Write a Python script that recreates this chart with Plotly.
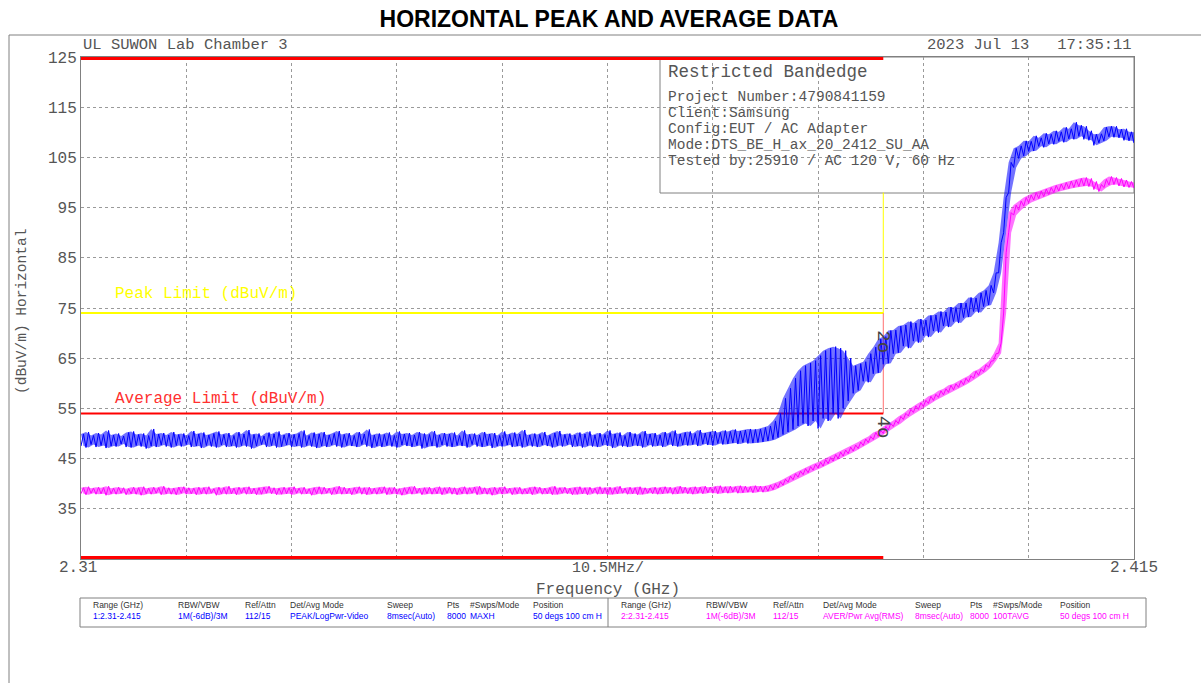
import plotly.graph_objects as go

# ---------------- data ----------------
f_start, f_stop, f_step = 2.31, 2.415, 0.0005   # sweep span (GHz), sample-bin width
n_bins = 211

peak_lo = [
    47.5, 47.2, 47.8, 47.3, 47.6, 47.1, 47.5, 47.4, 47.9, 47.3,
    47.2, 47.6, 47.4, 47.0, 47.5, 47.3, 47.7, 47.4, 47.2, 47.6,
    47.4, 47.8, 47.3, 47.5, 47.1, 47.6, 47.4, 47.2, 47.7, 47.3,
    47.5, 47.2, 47.6, 47.4, 47.0, 47.5, 47.8, 47.3, 47.6, 47.2,
    47.4, 47.7, 47.3, 47.5, 47.2, 47.6, 47.4, 47.1, 47.5, 47.3,
    47.7, 47.4, 47.2, 47.6, 47.5, 47.3, 47.8, 47.4, 47.1, 47.5,
    47.3, 47.6, 47.4, 47.2, 47.7, 47.5, 47.3, 47.6, 47.0, 47.4,
    47.5, 47.2, 47.7, 47.4, 47.3, 47.6, 47.5, 47.2, 47.8, 47.4,
    47.3, 47.6, 47.1, 47.5, 47.4, 47.7, 47.3, 47.5, 47.2, 47.6,
    47.4, 47.3, 47.7, 47.5, 47.2, 47.6, 47.4, 47.8, 47.3, 47.5,
    47.2, 47.6, 47.4, 47.3, 47.7, 47.5, 47.1, 47.6, 47.4, 47.3,
    47.6, 47.5, 47.2, 47.7, 47.4, 47.6, 47.3, 47.8, 47.5, 47.4,
    47.7, 47.6, 47.8, 47.5, 47.9, 47.7, 47.6, 48.0, 47.8, 47.9,
    48.1, 47.9, 48.2, 48.0,
    48.1, 48.2, 48.3, 48.5, 48.8, 49.2, 49.8, 50.3, 50.8, 51.5,
    52.0, 51.5, 52.5, 51.0, 53.0, 52.5, 54.0, 53.0, 55.0, 56.5,
    58.0, 58.6, 60.4, 60.2, 61.9, 62.1, 63.8, 64.0, 65.9, 66.1,
    67.4, 67.0, 68.4, 68.1, 69.5, 69.2, 70.4, 70.1, 71.4, 71.2,
    72.3, 72.0, 73.1, 73.2, 74.3, 74.1, 75.3, 75.6, 78.0, 82.0,
    90.0, 98.0, 103.0, 104.8, 105.3, 106.2, 106.3, 107.2, 107.0, 107.7,
    107.6, 108.2, 108.0, 108.7, 108.6, 109.2, 108.6, 108.4, 107.4, 107.9,
    108.3, 109.1, 109.0, 108.9, 108.4, 108.3, 107.9,
]

peak_hi = [
    49.9, 50.3, 49.6, 50.1, 49.8, 50.6, 49.7, 50.0, 49.5, 50.2,
    50.4, 49.8, 50.0, 49.6, 50.9, 49.9, 50.1, 49.7, 50.3, 49.8,
    50.0, 49.6, 50.5, 49.9, 50.2, 49.7, 50.0, 50.4, 49.8, 50.1,
    49.6, 50.3, 49.9, 50.7, 49.8, 50.0, 49.5, 50.2, 49.9, 50.4,
    49.7, 50.1, 49.8, 50.0, 50.6, 49.6, 50.2, 49.9, 50.3, 49.7,
    50.0, 50.5, 49.8, 50.1, 49.6, 50.3, 49.9, 50.8, 49.7, 50.0,
    49.8, 50.2, 49.6, 50.4, 49.9, 50.1, 49.7, 50.3, 50.0, 49.8,
    50.5, 49.7, 50.1, 49.9, 50.2, 49.6, 50.6, 49.8, 50.0, 49.7,
    50.3, 49.9, 50.1, 49.6, 50.4, 49.8, 50.2, 49.9, 50.7, 49.7,
    50.0, 49.8, 50.3, 49.6, 50.1, 50.5, 49.8, 50.0, 49.7, 50.2,
    49.9, 50.4, 49.7, 50.1, 49.8, 50.6, 49.9, 50.2, 49.6, 50.3,
    50.0, 49.8, 50.5, 49.9, 50.1, 49.7, 50.3, 50.0, 50.6, 49.9,
    50.2, 50.4, 50.0, 50.7, 50.1, 50.3, 50.5, 50.2, 50.6, 50.4,
    50.8, 50.5, 50.7, 50.9,
    50.8, 50.9, 51.2, 51.5, 52.5, 54.0, 57.0, 59.0, 61.0, 62.5,
    63.5, 64.0, 64.5, 65.5, 66.5, 67.0, 67.3, 67.0, 66.5, 65.0,
    63.5, 63.9, 64.3, 65.9, 67.2, 68.8, 69.3, 70.5, 70.6, 71.4,
    71.6, 72.3, 72.0, 72.8, 72.6, 73.5, 73.6, 74.3, 74.2, 75.2,
    75.1, 76.0, 76.0, 77.1, 77.0, 78.0, 78.5, 79.5, 82.0, 88.0,
    97.0, 104.0, 106.8, 107.3, 108.3, 108.2, 109.3, 108.9, 109.8, 109.6,
    110.3, 110.1, 111.0, 110.7, 112.0, 111.4, 111.2, 110.3, 109.6, 109.7,
    111.0, 111.2, 111.2, 110.6, 110.7, 110.1, 110.0,
]

avg_lo = [
    38.0, 37.8, 38.1, 37.9, 38.0, 37.7, 38.0, 37.9, 38.1, 37.8,
    38.0, 37.9, 37.7, 38.0, 37.9, 38.1, 37.8, 38.0, 37.9, 37.8,
    38.1, 37.9, 38.0, 37.8, 38.0, 37.9, 38.1, 37.7, 38.0, 37.9,
    38.0, 37.8, 38.1, 37.9, 38.0, 37.8, 37.9, 38.1, 38.0, 37.8,
    37.9, 38.0, 37.8, 38.1, 37.9, 38.0, 37.7, 38.0, 37.9, 38.1,
    37.8, 38.0, 37.9, 38.0, 37.8, 38.1, 37.9, 37.8, 38.0, 37.9,
    38.1, 37.8, 38.0, 37.9, 37.7, 38.0, 37.9, 38.1, 37.8, 38.0,
    37.9, 38.0, 37.8, 38.1, 37.9, 37.8, 38.0, 37.9, 38.1, 37.8,
    38.0, 37.9, 37.7, 38.0, 37.9, 38.1, 37.8, 38.0, 37.9, 38.0,
    37.8, 38.1, 37.9, 38.0, 37.8, 37.9, 38.1, 38.0, 37.8, 37.9,
    38.0, 37.8, 38.1, 37.9, 38.0, 37.8, 37.9, 38.0, 38.1, 37.9,
    38.0, 37.8, 37.9, 38.1, 38.0, 37.9, 38.0, 38.1, 37.9, 38.0,
    38.1, 38.0, 37.9, 38.1, 38.0, 38.2, 38.1, 38.0, 38.2, 38.1,
    38.3, 38.1, 38.2, 38.3, 38.2, 38.4,
    38.3, 38.5, 38.8, 39.2, 39.7, 40.3, 40.8, 41.3, 41.8, 42.2,
    42.7, 43.1, 43.5, 44.0, 44.5, 45.0, 45.5, 46.0, 46.5, 47.0,
    47.6, 48.2, 48.8, 49.4, 50.0, 50.7, 51.4, 52.0, 52.8, 53.5,
    54.2, 54.8, 55.4, 56.0, 56.6, 57.2, 57.7, 58.2, 58.7, 59.2,
    59.7, 60.3, 61.0, 61.6, 62.3, 63.2, 64.5, 66.0, 74.0, 90.0,
    93.5, 94.5, 95.3, 96.0, 96.5, 96.8, 97.2, 97.6, 98.0, 98.3,
    98.6, 98.8, 99.0, 99.2, 99.3, 99.2, 98.6, 98.2, 99.0, 99.5,
    99.6, 99.3, 99.1, 99.0, 98.9,
]

avg_hi = [
    39.2, 39.4, 39.1, 39.3, 39.2, 39.5, 39.1, 39.3, 39.2, 39.0,
    39.3, 39.2, 39.4, 39.1, 39.3, 39.2, 39.5, 39.2, 39.1, 39.3,
    39.4, 39.2, 39.1, 39.3, 39.2, 39.4, 39.0, 39.3, 39.2, 39.5,
    39.1, 39.3, 39.2, 39.4, 39.1, 39.2, 39.3, 39.5, 39.2, 39.1,
    39.3, 39.2, 39.4, 39.1, 39.3, 39.0, 39.2, 39.4, 39.3, 39.1,
    39.2, 39.5, 39.3, 39.1, 39.2, 39.4, 39.2, 39.3, 39.1, 39.2,
    39.4, 39.2, 39.3, 39.0, 39.2, 39.3, 39.5, 39.1, 39.2, 39.3,
    39.1, 39.4, 39.2, 39.3, 39.2, 39.1, 39.4, 39.2, 39.3, 39.5,
    39.2, 39.1, 39.3, 39.2, 39.4, 39.1, 39.2, 39.3, 39.0, 39.2,
    39.4, 39.3, 39.1, 39.2, 39.5, 39.2, 39.3, 39.1, 39.2, 39.4,
    39.2, 39.3, 39.1, 39.4, 39.2, 39.3, 39.2, 39.5, 39.1, 39.3,
    39.2, 39.4, 39.2, 39.1, 39.3, 39.2, 39.4, 39.3, 39.2, 39.5,
    39.3, 39.2, 39.4, 39.3, 39.5, 39.3, 39.4, 39.6, 39.4, 39.5,
    39.4, 39.6, 39.5, 39.4, 39.6, 39.5,
    39.5, 39.7, 40.0, 40.4, 40.9, 41.5, 42.0, 42.5, 43.0, 43.4,
    43.9, 44.3, 44.8, 45.2, 45.8, 46.3, 46.7, 47.3, 47.7, 48.3,
    48.9, 49.4, 50.2, 50.6, 51.4, 52.0, 52.6, 53.4, 54.0, 54.8,
    55.5, 56.1, 56.6, 57.4, 57.8, 58.5, 58.9, 59.6, 59.9, 60.5,
    61.0, 61.5, 62.4, 62.8, 63.7, 64.4, 65.9, 68.0, 86.0, 94.0,
    95.5, 96.3, 97.0, 97.5, 98.0, 98.3, 98.7, 99.0, 99.4, 99.7,
    100.0, 100.3, 100.5, 100.8, 101.0, 100.8, 100.2, 99.6, 100.6, 101.2,
    101.0, 100.8, 100.5, 100.2, 100.0,
]

restricted_edge = [2.31, 2.39]      # GHz, restricted band shown in red
peak_limit = 74.0                   # dBuV/m
avg_limit = 54.0                    # dBuV/m
ref_top, ref_bottom = 125.0, 25.0
legend_bottom = 98.0                # dBuV/m, lower edge of the info box
marker_freq = [2.39, 2.39]
marker_val = [68.3, 51.3]
marker_lbl = ["2", "4"]

y_ticks = [35, 45, 55, 65, 75, 85, 95, 105, 115, 125]

info_title = "Restricted Bandedge"
info_lines = [
    "Project Number:4790841159",
    "Client:Samsung",
    "Config:EUT / AC Adapter",
    "Mode:DTS_BE_H_ax_20_2412_SU_AA",
    "Tested by:25910 / AC 120 V, 60 Hz",
]

table_heads = ["Range (GHz)", "RBW/VBW", "Ref/Attn", "Det/Avg Mode", "Sweep", "Pts", "#Swps/Mode", "Position"]
table_row1 = ["1:2.31-2.415", "1M(-6dB)/3M", "112/15", "PEAK/LogPwr-Video", "8msec(Auto)", "8000", "MAXH", "50 degs 100 cm H"]
table_row2 = ["2:2.31-2.415", "1M(-6dB)/3M", "112/15", "AVER/Pwr Avg(RMS)", "8msec(Auto)", "8000", "100TAVG", "50 degs 100 cm H"]

# ---------------- figure ----------------
W, H = 1201, 683
L, R, T, B = 81, 1134, 57, 559
PW, PH = R - L, B - T


def px(x):
    return (x - L) / PW


def py(y):
    return (B - y) / PH


MONO = "Liberation Mono"
GRAY = "#555555"
BLUE = "#0000FF"
MAG = "#FF00FF"


def band(lo, hi):
    """closed polygon: upper envelope forward, lower envelope back"""
    xs, ys = [], []
    for i in range(n_bins):
        xs.append(f_start + f_step * i)
        ys.append(hi[i])
    for i in range(n_bins - 1, -1, -1):
        xs.append(f_start + f_step * i + f_step / 2)
        ys.append(lo[i])
    xs.append(xs[0])
    ys.append(ys[0])
    return xs, ys


def zigzag(lo, hi):
    xs, ys = [], []
    for i in range(n_bins):
        f = f_start + f_step * i
        xs += [f, f + f_step / 2]
        ys += [lo[i], hi[i]]
    return xs, ys


fig = go.Figure()

# limit lines
fig.add_trace(go.Scatter(x=restricted_edge, y=[peak_limit, peak_limit], mode="lines",
                         line=dict(color="#FFFF00", width=2), hoverinfo="skip"))
fig.add_trace(go.Scatter(x=[restricted_edge[1], restricted_edge[1]], y=[peak_limit, legend_bottom],
                         mode="lines", line=dict(color="#FFFF00", width=1), hoverinfo="skip"))
fig.add_trace(go.Scatter(x=[restricted_edge[1], restricted_edge[1]], y=[avg_limit, peak_limit],
                         mode="lines", line=dict(color="#FF7070", width=1), hoverinfo="skip"))
fig.add_trace(go.Scatter(x=restricted_edge, y=[avg_limit, avg_limit], mode="lines",
                         line=dict(color="#FF0000", width=2), hoverinfo="skip"))

# traces: semi-transparent noise band + opaque zigzag of the sample extremes
for lo, hi, col, fc in ((peak_lo, peak_hi, BLUE, "rgba(0,0,255,0.55)"),
                        (avg_lo, avg_hi, MAG, "rgba(255,0,255,0.55)")):
    bx, by = band(lo, hi)
    fig.add_trace(go.Scatter(x=bx, y=by, mode="lines", fill="toself", fillcolor=fc,
                             line=dict(color="rgba(0,0,0,0)", width=0), hoverinfo="skip"))
    zx, zy = zigzag(lo, hi)
    fig.add_trace(go.Scatter(x=zx, y=zy, mode="lines", line=dict(color=col, width=1), hoverinfo="skip"))

# restricted band edges (top/bottom)
fig.add_trace(go.Scatter(x=restricted_edge, y=[ref_top, ref_top], mode="lines",
                         line=dict(color="#FF0000", width=6), hoverinfo="skip"))
fig.add_trace(go.Scatter(x=restricted_edge, y=[ref_bottom, ref_bottom], mode="lines",
                         line=dict(color="#FF0000", width=6), hoverinfo="skip"))

fig.update_layout(
    width=W, height=H, showlegend=False,
    plot_bgcolor="white", paper_bgcolor="white",
    margin=dict(l=L, r=W - R, t=T, b=H - B),
    title=dict(text="<b>HORIZONTAL PEAK AND AVERAGE DATA</b>", x=0.507, xanchor="center",
               y=1 - 19 / H, yanchor="middle",
               font=dict(family="Liberation Sans", size=23, color="black")),
)
fig.update_xaxes(range=[f_start, f_stop], tick0=f_start, dtick=0.0105, showticklabels=False,
                 showgrid=True, gridcolor="#9a9a9a", griddash="dot", gridwidth=1,
                 showline=True, mirror=True, linecolor="#808080", linewidth=1,
                 zeroline=False, ticks="", layer="below traces")
fig.update_yaxes(range=[ref_bottom, ref_top], tickvals=y_ticks, ticktext=[str(v) for v in y_ticks],
                 showgrid=True, gridcolor="#9a9a9a", griddash="dot", gridwidth=1,
                 showline=True, mirror=True, linecolor="#808080", linewidth=1,
                 zeroline=False, ticks="", layer="below traces",
                 tickfont=dict(family=MONO, size=16, color=GRAY))

shapes = []
shapes.append(dict(type="rect", xref="paper", yref="paper", x0=px(660), x1=1.0,
                   y0=py(193), y1=1.0, fillcolor="white", line=dict(color="#808080", width=1),
                   layer="between"))
shapes.append(dict(type="line", xref="paper", yref="paper", x0=px(9), x1=px(1201), y0=py(35), y1=py(35),
                   line=dict(color="#808080", width=1)))
shapes.append(dict(type="line", xref="paper", yref="paper", x0=px(9), x1=px(9), y0=py(35), y1=py(683),
                   line=dict(color="#808080", width=1)))
shapes.append(dict(type="rect", xref="paper", yref="paper", x0=px(80), x1=px(1146), y0=py(627), y1=py(598),
                   line=dict(color="#808080", width=1), fillcolor="rgba(0,0,0,0)"))
shapes.append(dict(type="line", xref="paper", yref="paper", x0=px(608), x1=px(608), y0=py(627), y1=py(598),
                   line=dict(color="#808080", width=1)))
fig.update_layout(shapes=shapes)

ann = []


def txt(text, x, y, size, color=GRAY, xanchor="left", family=MONO, angle=0, xref="paper", yref="paper"):
    ann.append(dict(text=text, x=x, y=y, xref=xref, yref=yref, xanchor=xanchor, yanchor="middle",
                    showarrow=False, textangle=angle, font=dict(family=family, size=size, color=color)))


txt("UL SUWON Lab Chamber 3", px(81), py(45), 15.5)
txt("2023 Jul 13   17:35:11", px(1134), py(45), 15.5, xanchor="right")
txt("2.31", px(78), py(568), 16, xanchor="center")
txt("2.415", px(1134), py(568), 16, xanchor="center")
txt("10.5MHz/", px(608), py(568), 15, xanchor="center")
txt("Frequency (GHz)", px(608), py(590), 16, xanchor="center")
txt("(dBuV/m) Horizontal", px(22), py(312), 14.5, xanchor="center", angle=-90)

txt(info_title, px(666), py(72), 17.5)
for k, line in enumerate(info_lines):
    txt(line, px(666), py([97, 113, 129, 145, 161][k]), 14.5)

txt("Peak Limit (dBuV/m)", 2.3132, 77.8, 16, color="#FFFF00", xref="x", yref="y")
txt("Average Limit (dBuV/m)", 2.3132, 56.9, 16, color="#FF3030", xref="x", yref="y")

for f, v, lb in zip(marker_freq, marker_val, marker_lbl):
    txt(lb + "o", f, v, 19, color="#444444", xanchor="center", angle=90, xref="x", yref="y")

left_cols = [91, 176, 243, 288, 385, 445, 468, 531]
right_cols = [619, 704, 771, 821, 913, 968, 991, 1058]
for cols, row, color in ((left_cols, table_row1, BLUE), (right_cols, table_row2, MAG)):
    for cx, h, v in zip(cols, table_heads, row):
        txt(h, px(cx), py(605), 8.5, color="#333333", family="Liberation Sans")
        txt(v, px(cx), py(616), 8.5, color=color, family="Liberation Sans")

fig.update_layout(annotations=ann)
fig.write_html("out.html", config={"displayModeBar": False},
               post_script="document.body.style.margin='0';document.body.style.overflow='hidden';")
